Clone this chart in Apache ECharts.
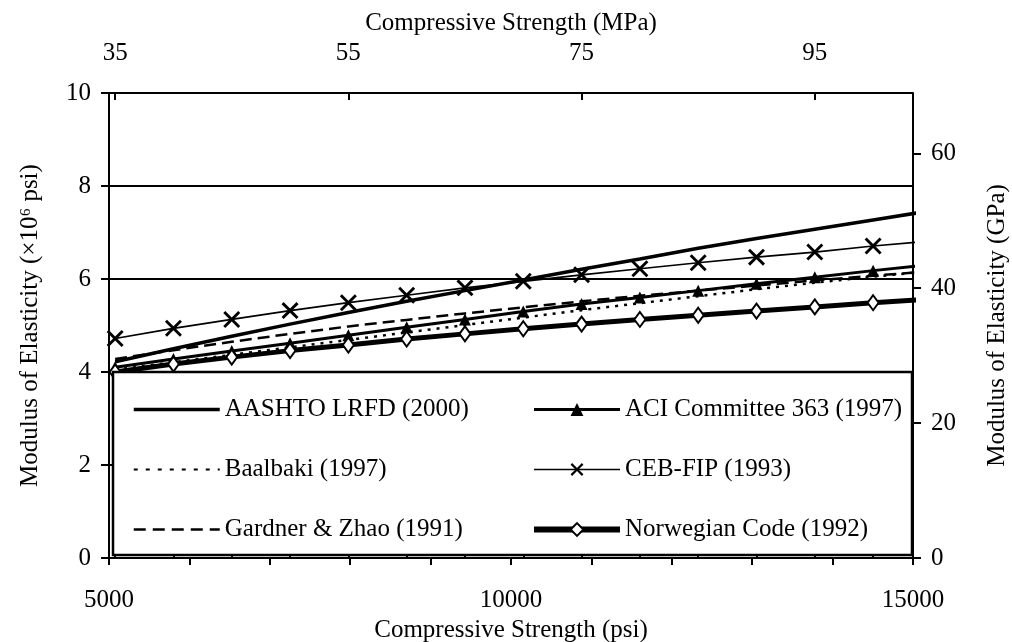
<!DOCTYPE html>
<html>
<head>
<meta charset="utf-8">
<script src="https://cdn.jsdelivr.net/npm/echarts@6/dist/echarts.min.js"></script>
<style>
  html, body { margin: 0; padding: 0; background: #fff; }
  #chart { width: 1012px; height: 642px; }
</style>
</head>
<body>
<div id="chart"></div>
<script>
// Concrete compressive strength (MPa) at which each model is evaluated
const strengthMPa = [35, 40, 45, 50, 55, 60, 65, 70, 75, 80, 85, 90, 95, 100, 105];

// Modulus of elasticity, x10^6 psi
const aashto      = [4.22, 4.50, 4.77, 5.03, 5.28, 5.52, 5.75, 5.98, 6.21, 6.43, 6.66, 6.87, 7.07, 7.27, 7.47];
const aci363      = [4.10, 4.28, 4.45, 4.62, 4.79, 4.96, 5.13, 5.30, 5.46, 5.60, 5.75, 5.90, 6.04, 6.18, 6.31];
const baalbaki    = [4.05, 4.21, 4.37, 4.53, 4.69, 4.85, 5.01, 5.17, 5.33, 5.48, 5.63, 5.78, 5.92, 6.05, 6.17];
const cebFip      = [4.72, 4.94, 5.13, 5.32, 5.49, 5.65, 5.81, 5.95, 6.09, 6.22, 6.35, 6.47, 6.58, 6.71, 6.82];
const gardnerZhao = [4.28, 4.47, 4.65, 4.82, 4.98, 5.12, 5.26, 5.39, 5.52, 5.64, 5.75, 5.86, 5.97, 6.07, 6.17];
const norwegian   = [4.00, 4.17, 4.32, 4.46, 4.58, 4.71, 4.82, 4.93, 5.03, 5.13, 5.22, 5.31, 5.40, 5.49, 5.57];

// Axis ticks
const psiLabels = [5000, 10000, 15000];
const mpaTicks = [35, 40, 45, 50, 55, 60, 65, 70, 75, 80, 85, 90, 95, 100];
const mpaLabels = [35, 55, 75, 95];
const gpaTicks = [0, 20, 40, 60];

const PSI_PER_MPA = 145.038;
const GPA_PER_MPSI = 6.895;
const PSI_MIN = 5000, PSI_MAX = 15000;
const FONT = "'Liberation Serif', 'Times New Roman', serif";
const FS = 25;

const pairs = vals => strengthMPa.map((m, i) => [m * PSI_PER_MPA, vals[i]]);

// filled "x" marker
const CROSS = 'path://M0,1.2L1.2,0L5,3.8L8.8,0L10,1.2L6.2,5L10,8.8L8.8,10L5,6.2L1.2,10L0,8.8L3.8,5Z';

const names = {
  aashto: 'AASHTO LRFD (2000)',
  aci: 'ACI Committee 363 (1997)',
  baal: 'Baalbaki (1997)',
  ceb: 'CEB-FIP (1993)',
  gz: 'Gardner & Zhao (1991)',
  nor: 'Norwegian Code (1992)'
};

const chart = echarts.init(document.getElementById('chart'), null, { renderer: 'canvas' });

const textBase = { color: '#000', fontFamily: FONT, fontSize: FS };
const plain = v => String(Math.round(v));

const legendCommon = {
  orient: 'vertical',
  top: 397,
  padding: 0,
  itemWidth: 86,
  itemHeight: 16,
  itemGap: 35,
  selectedMode: false,
  textStyle: Object.assign({ lineHeight: 25 }, textBase),
  z: 5
};

const option = {
  animation: false,
  backgroundColor: '#fff',
  grid: { left: 109, right: 99, top: 93, bottom: 84, containLabel: false, outerBoundsMode: 'none' },
  legend: [
    Object.assign({}, legendCommon, {
      left: 132,
      data: [
        { name: names.aashto, itemStyle: { opacity: 0 }, lineStyle: { width: 3.5, type: 'solid', color: '#000' } },
        { name: names.baal, itemStyle: { opacity: 0 }, lineStyle: { width: 2, type: [4, 8], color: '#000' } },
        { name: names.gz, itemStyle: { opacity: 0 }, lineStyle: { width: 2.5, type: [12, 7], color: '#000' } }
      ]
    }),
    Object.assign({}, legendCommon, {
      left: 531,
      data: [
        { name: names.aci, itemStyle: { color: '#000', borderWidth: 0 }, lineStyle: { width: 3, type: 'solid', color: '#000' } },
        { name: names.ceb, itemStyle: { color: '#000', borderWidth: 0 }, lineStyle: { width: 1.5, type: 'solid', color: '#000' } },
        { name: names.nor, itemStyle: { color: '#fff', borderColor: '#000', borderWidth: 2 }, lineStyle: { width: 6, type: 'solid', color: '#000' } }
      ]
    })
  ],
  xAxis: [
    {
      type: 'value',
      position: 'bottom',
      min: PSI_MIN,
      max: PSI_MAX,
      interval: 1000,
      name: 'Compressive Strength (psi)',
      nameLocation: 'middle',
      nameGap: 52,
      nameTextStyle: textBase,
      axisLine: { show: true, lineStyle: { color: '#000', width: 2 } },
      axisTick: { show: true, inside: false, length: 7, lineStyle: { color: '#000', width: 2 } },
      axisLabel: Object.assign({ margin: 30, customValues: psiLabels, formatter: plain }, textBase),
      splitLine: { show: false }
    },
    {
      type: 'value',
      position: 'top',
      min: PSI_MIN / PSI_PER_MPA,
      max: PSI_MAX / PSI_PER_MPA,
      name: 'Compressive Strength (MPa)',
      nameLocation: 'middle',
      nameGap: 53,
      nameTextStyle: textBase,
      axisLine: { show: true, lineStyle: { color: '#000', width: 2 } },
      axisTick: { show: true, inside: false, length: 5, customValues: mpaTicks, lineStyle: { color: '#000', width: 2 } },
      axisLabel: Object.assign({ margin: 27, customValues: mpaLabels, formatter: plain }, textBase),
      splitLine: { show: false }
    },
    {
      // inner half of the major MPa ticks
      type: 'value',
      position: 'top',
      min: PSI_MIN / PSI_PER_MPA,
      max: PSI_MAX / PSI_PER_MPA,
      axisLine: { show: false },
      axisTick: { show: true, inside: true, length: 7, customValues: mpaLabels, lineStyle: { color: '#000', width: 2 } },
      axisLabel: { show: false },
      splitLine: { show: false }
    }
  ],
  yAxis: [
    {
      type: 'value',
      position: 'left',
      min: 0,
      max: 10,
      interval: 2,
      name: 'Modulus of Elasticity (\u00d710\u2076 psi)',
      nameLocation: 'middle',
      nameGap: 66,
      nameRotate: 90,
      nameTextStyle: textBase,
      axisLine: { show: true, lineStyle: { color: '#000', width: 2 } },
      axisTick: { show: true, inside: false, length: 8, lineStyle: { color: '#000', width: 2 } },
      axisLabel: Object.assign({ margin: 18 }, textBase),
      splitLine: { show: true, lineStyle: { color: '#000', width: 2 } }
    },
    {
      type: 'value',
      position: 'right',
      min: 0,
      max: 10 * GPA_PER_MPSI,
      interval: 20,
      name: 'Modulus of Elasticity (GPa)',
      nameLocation: 'middle',
      nameGap: 72,
      nameRotate: 90,
      nameTextStyle: textBase,
      axisLine: { show: true, lineStyle: { color: '#000', width: 2 } },
      axisTick: { show: true, inside: false, length: 8, customValues: gpaTicks, lineStyle: { color: '#000', width: 2 } },
      axisLabel: Object.assign({ margin: 18, customValues: gpaTicks, formatter: plain }, textBase),
      splitLine: { show: false }
    }
  ],
  series: [
    {
      name: names.aashto, type: 'line', data: pairs(aashto), clip: true,
      symbol: 'none', lineStyle: { color: '#000', width: 3.5 }, z: 2
    },
    {
      name: names.aci, type: 'line', data: pairs(aci363), clip: true,
      symbol: 'triangle', symbolSize: 12,
      itemStyle: { color: '#000', borderWidth: 0 },
      lineStyle: { color: '#000', width: 3 }, z: 2
    },
    {
      name: names.baal, type: 'line', data: pairs(baalbaki), clip: true,
      symbol: 'none', lineStyle: { color: '#000', width: 2.5, type: [3, 6] }, z: 2
    },
    {
      name: names.ceb, type: 'line', data: pairs(cebFip), clip: true,
      symbol: CROSS, symbolSize: 17,
      itemStyle: { color: '#000', borderWidth: 0 },
      lineStyle: { color: '#000', width: 1.7 }, z: 2
    },
    {
      name: names.gz, type: 'line', data: pairs(gardnerZhao), clip: true,
      symbol: 'none', lineStyle: { color: '#000', width: 2.5, type: [12, 6] }, z: 2
    },
    {
      name: names.nor, type: 'line', data: pairs(norwegian), clip: true,
      symbol: 'diamond', symbolSize: [11, 15],
      itemStyle: { color: '#fff', borderColor: '#000', borderWidth: 2 },
      lineStyle: { color: '#000', width: 5 }, z: 2
    }
  ]
};

chart.setOption(option);

// White framed panel that holds the legend, spanning the lower part of the plot
const toPx = (x, y) => chart.convertToPixel({ xAxisIndex: 0, yAxisIndex: 0 }, [x, y]);
const topLeft = toPx(PSI_MIN, 4);
const bottomRight = toPx(PSI_MAX, 0);
chart.setOption({
  graphic: [{
    type: 'rect',
    z: 3,
    shape: {
      x: topLeft[0] + 4,
      y: topLeft[1],
      width: bottomRight[0] - topLeft[0] - 5,
      height: bottomRight[1] - topLeft[1] - 3
    },
    style: { fill: '#fff', stroke: '#000', lineWidth: 2.5 }
  }]
});
</script>
</body>
</html>
